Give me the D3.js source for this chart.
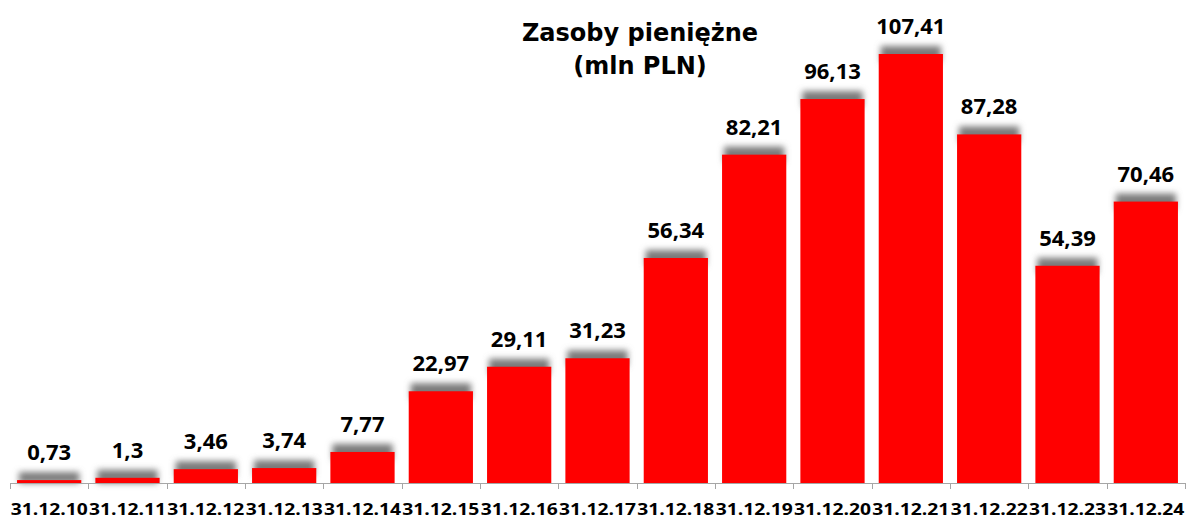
<!DOCTYPE html>
<html><head><meta charset="utf-8">
<script src="https://cdn.jsdelivr.net/npm/d3@7"></script>
<style>body{margin:0;background:#fff}svg{display:block}</style>
</head><body>
<script>
const categories = ["31.12.10","31.12.11","31.12.12","31.12.13","31.12.14","31.12.15","31.12.16","31.12.17","31.12.18","31.12.19","31.12.20","31.12.21","31.12.22","31.12.23","31.12.24"];
const values = [0.73,1.3,3.46,3.74,7.77,22.97,29.11,31.23,56.34,82.21,96.13,107.41,87.28,54.39,70.46];
const valueLabels = ["0,73","1,3","3,46","3,74","7,77","22,97","29,11","31,23","56,34","82,21","96,13","107,41","87,28","54,39","70,46"];
const titleLines = ["Zasoby pieniężne","(mln PLN)"];

const W=1186,H=520;
const FONT="'Open Sans', 'DejaVu Sans', sans-serif";
const TFONT="'DejaVu Sans', sans-serif";
const svg=d3.select("body").append("svg").attr("width",W).attr("height",H);
const defs=svg.append("defs");
const f=defs.append("filter").attr("id","sh").attr("x","-20%").attr("y","-60%").attr("width","140%").attr("height","220%");
f.append("feGaussianBlur").attr("stdDeviation",3);

const x=d3.scaleBand().domain(categories).range([10,1185]).paddingInner(0.18).paddingOuter(0.09);
const y=d3.scaleLinear().domain([0,120]).range([483,483-120*3.994]);

const g=svg.append("g");
g.selectAll("rect.sh").data(values).join("rect").attr("class","sh")
 .attr("x",(d,i)=>x(categories[i])+2).attr("width",x.bandwidth()-4)
 .attr("y",d=>y(d)-8).attr("height",d=>Math.min(16,y(0)-y(d)+8))
 .attr("fill","#7a7a7a").attr("filter","url(#sh)");
g.selectAll("rect.bar").data(values).join("rect").attr("class","bar")
 .attr("x",(d,i)=>x(categories[i])).attr("width",x.bandwidth())
 .attr("y",d=>y(d)).attr("height",d=>y(0)-y(d)).attr("fill","#ff0000");

const step=x.step();
const ax=svg.append("g");
ax.append("line").attr("x1",x.range()[0]).attr("x2",x.range()[1]).attr("y1",y(0)+0.5).attr("y2",y(0)+0.5).attr("stroke","#a6a6a6");
const edges=categories.map((c,i)=>x.range()[0]+i*step).concat([x.range()[1]]);
ax.selectAll("line.t").data(edges).join("line").attr("class","t")
 .attr("x1",d=>Math.round(d)+0.5).attr("x2",d=>Math.round(d)+0.5).attr("y1",y(0)).attr("y2",y(0)+6).attr("stroke","#a6a6a6");
ax.selectAll("text").data(categories).join("text")
 .attr("x",d=>x(d)+x.bandwidth()/2).attr("y",515).attr("text-anchor","middle")
 .attr("font-family",FONT).attr("font-weight","bold").attr("font-size",16).attr("fill","#000")
 .attr("textLength",77).attr("lengthAdjust","spacingAndGlyphs")
 .text(d=>d);

svg.selectAll("text.v").data(values).join("text").attr("class","v")
 .attr("x",(d,i)=>x(categories[i])+x.bandwidth()/2).attr("y",d=>y(d)-20)
 .attr("text-anchor","middle").attr("font-family",FONT).attr("font-weight","bold").attr("font-size",22).attr("fill","#000")
 .text((d,i)=>valueLabels[i]);

svg.selectAll("text.title").data(titleLines).join("text").attr("class","title")
 .attr("x",640).attr("y",(d,i)=>41+i*33).attr("text-anchor","middle")
 .attr("font-family",TFONT).attr("font-weight","bold").attr("font-size",24).attr("fill","#000")
 .text(d=>d);
</script>
</body></html>
